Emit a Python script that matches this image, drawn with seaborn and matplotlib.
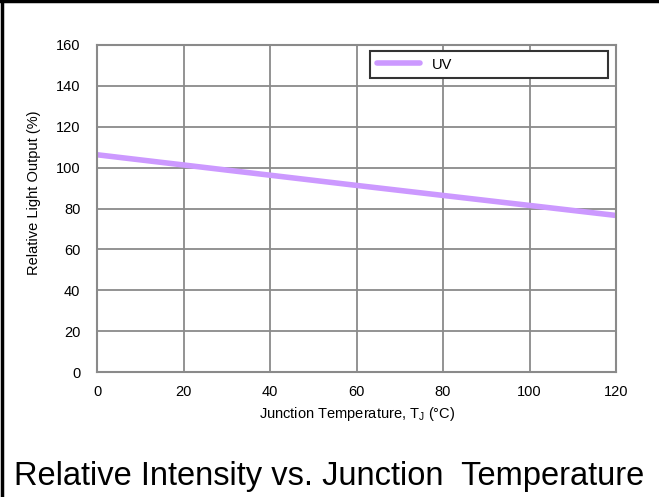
import matplotlib
matplotlib.use("Agg")
import matplotlib.pyplot as plt
import seaborn as sns
import pandas as pd
from matplotlib.lines import Line2D

# Data
temperature = [0, 60, 120]
light_output = [106.3, 91.3, 76.6]
series_name = ["UV", "UV", "UV"]

x_ticks = [0, 20, 40, 60, 80, 100, 120]
y_ticks = [0, 20, 40, 60, 80, 100, 120, 140, 160]

df = pd.DataFrame({"temp": temperature, "output": light_output, "series": series_name})

sns.set_style("white")
plt.rcParams["font.family"] = ["Liberation Sans", "DejaVu Sans"]
plt.rcParams["mathtext.fontset"] = "custom"
plt.rcParams["mathtext.rm"] = "Liberation Sans"
plt.rcParams["text.color"] = "black"
plt.rcParams["axes.labelcolor"] = "black"

grid_color = "#8a8a8a"

fig = plt.figure(figsize=(6.59, 4.97), dpi=100)
ax = fig.add_axes([97 / 659, 1 - 372 / 497, 519 / 659, 327 / 497])

sns.lineplot(data=df, x="temp", y="output", hue="series", palette=["#cc99ff"],
             linewidth=4, ax=ax, legend=False)

ax.set_xlim(0, 120)
ax.set_ylim(0, 160)
ax.set_xticks(x_ticks)
ax.set_yticks(y_ticks)
ax.tick_params(axis="both", length=0, labelsize=10.5, colors="black")
ax.tick_params(axis="x", pad=9)
ax.tick_params(axis="y", pad=12)

ax.grid(True, color=grid_color, linewidth=1.3)
ax.set_axisbelow(True)
for sp in ax.spines.values():
    sp.set_color(grid_color)
    sp.set_linewidth(1.5)

ax.set_xlabel(r"Junction Temperature, T$_\mathregular{J}$ (°C)", fontsize=10.5)
ax.set_ylabel("Relative Light Output (%)", fontsize=10.5)
ax.xaxis.set_label_coords(0.501, -0.1)
ax.yaxis.set_label_coords(-0.108, 0.547)

handle = Line2D([], [], color="#cc99ff", linewidth=4)
leg = ax.legend([handle], ["UV"], loc="upper left",
                bbox_to_anchor=(0.526, 0.887, 0.4586, 0.0948), mode="expand",
                borderaxespad=0, fancybox=False, framealpha=1, fontsize=10.5,
                handlelength=3.0, borderpad=0.45)
leg.get_frame().set_edgecolor("#333333")
leg.get_frame().set_linewidth(1.5)

fig.text(0.5, 1 - 476 / 497, "Relative Intensity vs. Junction  Temperature",
         ha="center", va="center", fontsize=23.5, color="black")

# outer frame (left and top edges)
fig.add_artist(Line2D([0.003, 0.003], [0, 1], transform=fig.transFigure, color="black", linewidth=2.5))
fig.add_artist(Line2D([0, 1], [0.997, 0.997], transform=fig.transFigure, color="black", linewidth=2.5))

fig.savefig("out.png", dpi=100)
